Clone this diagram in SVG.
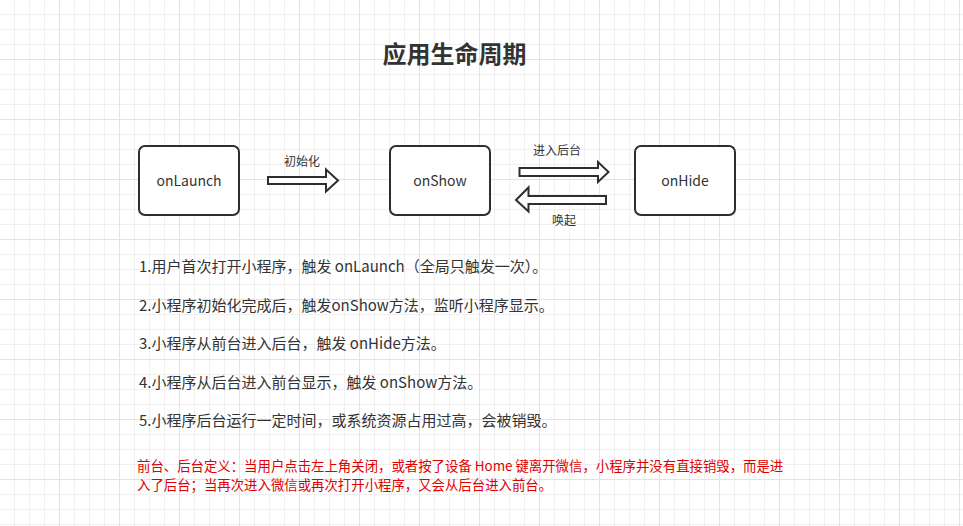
<svg xmlns="http://www.w3.org/2000/svg" width="963" height="526" viewBox="0 0 963 526">
<defs>
<pattern id="grid" x="0" y="0" width="60" height="60" patternUnits="userSpaceOnUse">
<path d="M14.5 0V60M29.5 0V60M44.5 0V60M0 14.5H60M0 29.5H60M0 44.5H60" stroke="#f0f0f0" stroke-width="1" fill="none"/>
<path d="M59.5 0V60M0 59.5H60" stroke="#e3e3e3" stroke-width="1" fill="none"/>
</pattern>
<style>
text{font-family:"Noto Sans CJK SC","Microsoft YaHei",sans-serif;fill:#333}
.node rect{fill:#fff;stroke:#2e2e2e;stroke-width:2}
.node text{font-size:14px;text-anchor:middle}
.arrow{fill:#fff;stroke:#2e2e2e;stroke-width:2;stroke-linejoin:miter}
.lbl{font-size:12px;text-anchor:middle}
.item{font-size:15px}
.note{font-size:13.4px;fill:#e00000}
</style>
</defs>
<rect width="963" height="526" fill="#fff"/>
<rect width="963" height="526" fill="url(#grid)"/>
<text x="454.5" y="63" font-size="24" font-weight="bold" text-anchor="middle">应用生命周期</text>
<g id="onLaunch" class="node"><rect x="139" y="146" width="100" height="69" rx="6"/><text x="189" y="186">onLaunch</text></g>
<g id="onShow" class="node"><rect x="390" y="146" width="100" height="69" rx="6"/><text x="440" y="186">onShow</text></g>
<g id="onHide" class="node"><rect x="635" y="146" width="100" height="69" rx="6"/><text x="685" y="186">onHide</text></g>
<g id="connectors">
<path class="arrow" d="M268 177H326V169.5L338 180.5L326 191.5V184H268Z"/>
<text class="lbl" x="302" y="166">初始化</text>
<path class="arrow" d="M519.5 168H598V162L608.5 172L598 182V176H519.5Z"/>
<text class="lbl" x="557" y="155">进入后台</text>
<path class="arrow" d="M606 196H528.5V187.5L516 200L528.5 211.5V204H606Z"/>
<text class="lbl" x="564" y="225">唤起</text>
</g>
<text class="item" x="139" y="272">1.用户首次打开小程序，触发 onLaunch（全局只触发一次）。</text>
<text class="item" x="139" y="310.5">2.小程序初始化完成后，触发onShow方法，监听小程序显示。</text>
<text class="item" x="139" y="349">3.小程序从前台进入后台，触发 onHide方法。</text>
<text class="item" x="139" y="387.5">4.小程序从后台进入前台显示，触发 onShow方法。</text>
<text class="item" x="139" y="426">5.小程序后台运行一定时间，或系统资源占用过高，会被销毁。</text>
<text class="note" x="137" y="470.5">前台、后台定义：当用户点击左上角关闭，或者按了设备 Home 键离开微信，小程序并没有直接销毁，而是进</text>
<text class="note" x="137" y="490">入了后台；当再次进入微信或再次打开小程序，又会从后台进入前台。</text>
</svg>
